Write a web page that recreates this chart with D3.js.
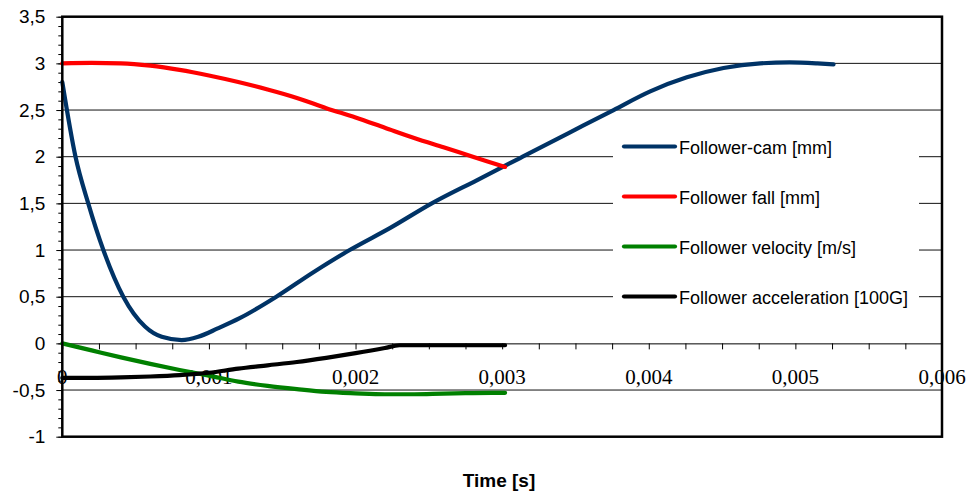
<!DOCTYPE html>
<html>
<head>
<meta charset="utf-8">
<script src="https://cdn.jsdelivr.net/npm/d3@7"></script>
<style>
  html, body { margin: 0; padding: 0; background: #fff; }
  svg { display: block; }
</style>
</head>
<body>
<svg id="chart" width="968" height="497"></svg>
<script>
// Cam follower motion over one fall stroke (time in seconds)
const camTime = [0, 0.00009, 0.000177, 0.00028, 0.000416, 0.000564, 0.000678, 0.000814, 0.000927, 0.00106, 0.00121,
  0.00146, 0.00171, 0.00196, 0.00224, 0.00252, 0.00283, 0.00314, 0.00345, 0.00376, 0.00401, 0.00426, 0.00451,
  0.00476, 0.00496, 0.00515, 0.00526];
const camValue = [2.80, 2.0, 1.5, 1.0, 0.5, 0.18, 0.07, 0.035, 0.07, 0.16, 0.27,
  0.5, 0.76, 1.0, 1.24, 1.5, 1.75, 2.0, 2.25, 2.5, 2.7, 2.85, 2.95,
  3.0, 3.01, 3.0, 2.99];

const fallTime = [0, 0.0002, 0.0004, 0.0006, 0.0008, 0.001, 0.0012, 0.0014, 0.0016, 0.0018, 0.002, 0.0022,
  0.0024, 0.0026, 0.0028, 0.00302];
const fallValue = [3.0, 3.005, 3.0, 2.975, 2.93, 2.87, 2.8, 2.72, 2.63, 2.52, 2.42, 2.31,
  2.2, 2.1, 2.0, 1.89];

const velTime = [0, 0.0002, 0.0004, 0.0006, 0.0008, 0.001, 0.0012, 0.0014, 0.0016, 0.0018, 0.002, 0.0022,
  0.0024, 0.0026, 0.0028, 0.00302];
const velValue = [0, -0.075, -0.15, -0.22, -0.285, -0.345, -0.41, -0.455, -0.49, -0.52, -0.535, -0.545,
  -0.545, -0.538, -0.533, -0.53];

const accTime = [0, 0.0002, 0.0004, 0.0006, 0.0008, 0.001, 0.0012, 0.0014, 0.0016, 0.0018, 0.002, 0.0022,
  0.0023, 0.0025, 0.0028, 0.00302];
const accValue = [-0.37, -0.37, -0.365, -0.355, -0.34, -0.315, -0.27, -0.235, -0.2, -0.155, -0.105, -0.05,
  -0.02, -0.02, -0.02, -0.02];

const seriesNames = ["Follower-cam [mm]", "Follower fall [mm]", "Follower velocity [m/s]", "Follower acceleration [100G]"];
const seriesColors = ["#003366", "#ff0000", "#008000", "#000000"];

const yTickValues = [-1, -0.5, 0, 0.5, 1, 1.5, 2, 2.5, 3, 3.5];
const xTickValues = [0, 0.001, 0.002, 0.003, 0.004, 0.005, 0.006];
const xAxisTitle = "Time [s]";

const SANS = '"Liberation Sans", Arial, sans-serif';
const SERIF = '"Liberation Serif", "Times New Roman", serif';

const series = [
  { name: seriesNames[0], color: seriesColors[0], pts: camTime.map((t, i) => [t, camValue[i]]) },
  { name: seriesNames[1], color: seriesColors[1], pts: fallTime.map((t, i) => [t, fallValue[i]]) },
  { name: seriesNames[2], color: seriesColors[2], pts: velTime.map((t, i) => [t, velValue[i]]) },
  { name: seriesNames[3], color: seriesColors[3], pts: accTime.map((t, i) => [t, accValue[i]]) }
];

const svg = d3.select("#chart");
const plot = { left: 62.3, top: 16.7, right: 942, bottom: 436.7 };

const x = d3.scaleLinear().domain([0, 0.006]).range([plot.left, plot.right]);
const y = d3.scaleLinear().domain([-1, 3.5]).range([plot.bottom, plot.top]);
const comma = v => String(+v.toFixed(4)).replace(".", ",");

// horizontal gridlines
svg.append("g").selectAll("line")
  .data(yTickValues.filter(v => v !== 0 && v !== -1 && v !== 3.5))
  .join("line")
  .attr("x1", plot.left).attr("x2", plot.right)
  .attr("y1", d => y(d)).attr("y2", d => y(d))
  .attr("stroke", "#111").attr("stroke-width", 1);

// y axis: minor ticks every 0.1, major ticks every 0.5
svg.append("g")
  .attr("transform", `translate(${plot.left},0)`)
  .call(d3.axisLeft(y).tickValues(d3.range(-10, 36).map(i => i / 10)).tickSize(4).tickFormat(""))
  .call(g => g.select(".domain").remove());
svg.append("g")
  .attr("transform", `translate(${plot.left},0)`)
  .call(d3.axisLeft(y).tickValues(yTickValues).tickSize(6).tickPadding(11).tickFormat(comma))
  .call(g => g.select(".domain").remove())
  .call(g => g.selectAll("text")
    .style("font-family", SANS)
    .style("font-size", "19px").attr("fill", "#000"));

// x axis along zero line with ticks every 0.00025
svg.append("g")
  .attr("transform", `translate(0,${y(0)})`)
  .call(d3.axisBottom(x).tickValues(d3.range(0, 25).map(i => i * 0.00025)).tickSize(6).tickFormat("").tickSizeOuter(0))
  .call(g => g.select(".domain").attr("stroke-width", 1));

// x tick labels
svg.append("g").selectAll("text")
  .data(xTickValues)
  .join("text")
  .attr("x", d => x(d))
  .attr("y", 384)
  .attr("text-anchor", "middle")
  .style("font-family", SERIF)
  .style("font-size", "21px")
  .attr("fill", "#000")
  .text(d => d === 0 ? "0" : comma(d));

// legend background
const legend = svg.append("g");
legend.append("rect")
  .attr("x", 613).attr("y", 124).attr("width", 306).attr("height", 196)
  .attr("fill", "#fff");

// series lines
const line = d3.line()
  .x(d => x(d[0]))
  .y(d => y(d[1]))
  .curve(d3.curveMonotoneX);

svg.append("g").selectAll("path")
  .data(series)
  .join("path")
  .attr("d", d => line(d.pts))
  .attr("fill", "none")
  .attr("stroke", d => d.color)
  .attr("stroke-width", 4.2)
  .attr("stroke-linecap", "round")
  .attr("stroke-linejoin", "round");

// legend entries
const entry = legend.selectAll("g.entry")
  .data(series)
  .join("g")
  .attr("class", "entry")
  .attr("transform", (d, i) => `translate(0,${146.5 + i * 50})`);
entry.append("line")
  .attr("x1", 624).attr("x2", 675)
  .attr("stroke", d => d.color)
  .attr("stroke-width", 4.2)
  .attr("stroke-linecap", "round");
entry.append("text")
  .attr("x", 679).attr("y", 7)
  .style("font-family", SANS)
  .style("font-size", "18px")
  .attr("fill", "#000")
  .text(d => d.name);

// plot frame
svg.append("rect")
  .attr("x", plot.left).attr("y", plot.top)
  .attr("width", plot.right - plot.left).attr("height", plot.bottom - plot.top)
  .attr("fill", "none").attr("stroke", "#000").attr("stroke-width", 2.5);

// axis title
svg.append("text")
  .attr("x", 499).attr("y", 487)
  .attr("text-anchor", "middle")
  .style("font-family", SANS)
  .style("font-weight", "bold")
  .style("font-size", "19px")
  .attr("fill", "#000")
  .text(xAxisTitle);
</script>
</body>
</html>
